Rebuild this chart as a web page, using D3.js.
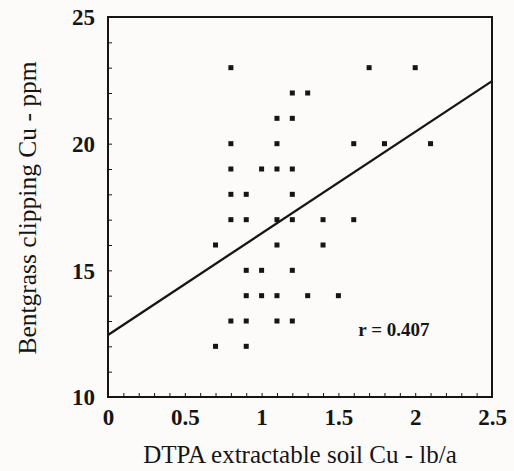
<!DOCTYPE html>
<html><head><meta charset="utf-8">
<script src="https://cdn.jsdelivr.net/npm/d3@7"></script>
<style>body{margin:0;background:#fcfbf9;} svg{display:block;}</style>
</head><body>
<svg id="c" width="514" height="471"></svg>
<script>
const soilCu = [0.8,1.7,2.0, 1.2,1.3, 1.1,1.2, 0.8,1.1,1.6,1.8,2.1, 0.8,1.0,1.1,1.2,
  0.8,0.9,1.2, 0.8,0.9,1.1,1.2,1.4,1.6, 0.7,1.1,1.4, 0.9,1.0,1.2,
  0.9,1.0,1.1,1.3,1.5, 0.8,0.9,1.1,1.2, 0.7,0.9];
const clipCu = [23,23,23, 22,22, 21,21, 20,20,20,20,20, 19,19,19,19,
  18,18,18, 17,17,17,17,17,17, 16,16,16, 15,15,15,
  14,14,14,14,14, 13,13,13,13, 12,12];
const fitX = [0, 2.5];
const fitY = [12.45, 22.47];
const xTicks = [0, 0.5, 1, 1.5, 2, 2.5];
const yTicks = [10, 15, 20, 25];
const rLabel = "r = 0.407";

const svg = d3.select("#c");
const L = 108, R = 492, T = 17, B = 397;
const x = d3.scaleLinear().domain([0, 2.5]).range([L, R]);
const y = d3.scaleLinear().domain([10, 25]).range([B, T]);
const ink = "#151515";
const serif = "'Liberation Serif','Times New Roman',serif";

// minor ticks inward
const xMinor = d3.range(0, 2.5001, 0.1);
svg.append("g").attr("transform", `translate(0,${B})`)
  .call(d3.axisBottom(x).tickValues(xMinor).tickSize(-4).tickFormat(""))
  .call(g => g.select(".domain").remove())
  .call(g => g.selectAll("line").attr("stroke", ink).attr("stroke-width", 1));
const yMinor = d3.range(10, 25.001, 1);
svg.append("g").attr("transform", `translate(${L},0)`)
  .call(d3.axisLeft(y).tickValues(yMinor).tickSize(-4).tickFormat(""))
  .call(g => g.select(".domain").remove())
  .call(g => g.selectAll("line").attr("stroke", ink).attr("stroke-width", 1));

// tick labels
svg.append("g").attr("transform", `translate(0,${B})`)
  .call(d3.axisBottom(x).tickValues(xTicks).tickSize(0).tickPadding(28).tickFormat(d => String(d)))
  .call(g => g.select(".domain").remove())
  .call(g => g.selectAll("text").attr("font-family", serif).attr("font-weight", "bold")
    .attr("font-size", 23).attr("fill", ink).attr("dy", 0));
svg.append("g").attr("transform", `translate(${L},0)`)
  .call(d3.axisLeft(y).tickValues(yTicks).tickSize(0).tickPadding(13).tickFormat(d => String(d)))
  .call(g => g.select(".domain").remove())
  .call(g => g.selectAll("text").attr("font-family", serif).attr("font-weight", "bold")
    .attr("font-size", 23).attr("fill", ink).attr("dy", "0.34em"));

// frame
svg.append("rect").attr("x", L).attr("y", T).attr("width", R - L).attr("height", B - T)
  .attr("fill", "none").attr("stroke", ink).attr("stroke-width", 2);

// regression line
svg.append("line").attr("x1", x(fitX[0])).attr("y1", y(fitY[0]))
  .attr("x2", x(fitX[1])).attr("y2", y(fitY[1]))
  .attr("stroke", ink).attr("stroke-width", 2.3);

// points
const sz = 5;
svg.append("g").selectAll("rect").data(soilCu.map((d, i) => [d, clipCu[i]])).join("rect")
  .attr("x", d => x(d[0]) - sz / 2).attr("y", d => y(d[1]) - sz / 2)
  .attr("width", sz).attr("height", sz).attr("fill", ink);

// r label
svg.append("text").attr("x", x(1.63)).attr("y", y(12.4)).attr("font-family", serif)
  .attr("font-weight", "bold").attr("font-size", 19).attr("fill", ink).text(rLabel);

// axis titles
svg.append("text").attr("x", (L + R) / 2).attr("y", 463).attr("text-anchor", "middle")
  .attr("font-family", serif).attr("font-size", 25).attr("fill", ink)
  .text("DTPA extractable soil Cu - lb/a");
svg.append("text").attr("transform", `translate(36,${(T + B) / 2 + 1}) rotate(-90)`)
  .attr("text-anchor", "middle").attr("font-family", serif).attr("font-size", 25.5).attr("fill", ink)
  .text("Bentgrass clipping Cu - ppm");
</script>
</body></html>
